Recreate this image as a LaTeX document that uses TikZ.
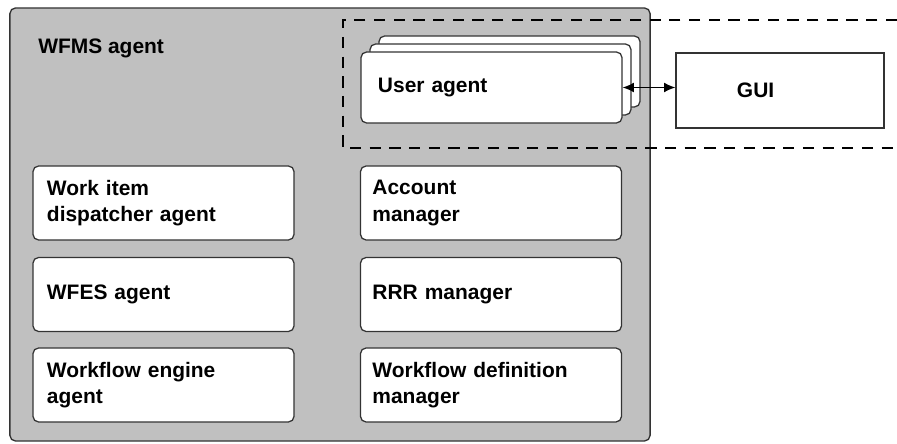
\documentclass[tikz,border=0pt]{standalone}
\usepackage{fontspec}
\setmainfont{Liberation Sans}
\usepackage{tikz}
\usetikzlibrary{arrows.meta}

\definecolor{panelgray}{HTML}{C0C0C0}
\definecolor{edgegray}{HTML}{333333}

\begin{document}
\begin{tikzpicture}[x=0.025cm,y=-0.025cm,font=\bfseries\fontsize{14.9}{19}\selectfont]

        \useasboundingbox (0,0) rectangle (897,444);

        \edef\boxwidth{6.525cm}
        \edef\boxheight{1.85cm}
        \tikzstyle{agentbox}=[draw=edgegray,fill=white,line width=0.9pt,rounded corners=4pt,minimum width=\boxwidth,minimum height=\boxheight,inner xsep=0.35cm,text width=5.825cm,align=left]
        \tikzstyle{mgrbox}=[agentbox,inner xsep=0.3cm,text width=5.925cm]
        \tikzstyle{userbox}=[agentbox,minimum height=1.775cm,inner xsep=0.425cm,text width=5.675cm]
        \tikzstyle{zone}=[line width=0.9pt,dash pattern=on 8pt off 6pt]

        %% WFMS container
        \node [draw=edgegray,fill=panelgray,line width=0.95pt,rounded corners=4pt,minimum width=16cm,minimum height=10.825cm] (wfms) at (330,224.5) {};
        \node [anchor=west,inner sep=0pt] (wfmslabel) at (38,48) {WFMS agent};

        %% dashed user zone
        \draw [zone] (897,20) -- (343,20) -- (343,148) -- (897,148);

        %% user agent stack
        \node [userbox] (ua3) at (509.5,71.5) {};
        \node [userbox] (ua2) at (500.5,79.5) {};
        \node [userbox] (ua) at (491.5,87.5) {User agent};
        \node [agentbox,rounded corners=0pt,minimum width=5.2cm,minimum height=1.875cm,inner xsep=1.525cm,text width=2.15cm] (gui) at (780,90.5) {GUI};
        \draw [line width=0.9pt,{Latex[length=8pt,width=7pt]}-{Latex[length=8pt,width=7pt]}] (ua.east) -- (ua.east -| gui.west);

        %% left column
        \node [agentbox] (dispatcher) at (163.5,203) {Work item\\dispatcher agent};
        \node [agentbox] (wfes) at (163.5,294.5) {WFES agent};
        \node [agentbox] (engine) at (163.5,385) {Workflow engine\\agent};

        %% right column
        \node [mgrbox] (account) at (491,203) {Account\\manager};
        \node [mgrbox] (rrr) at (491,294.5) {RRR manager};
        \node [mgrbox] (definition) at (491,385) {Workflow definition\\manager};

\end{tikzpicture}
\end{document}
